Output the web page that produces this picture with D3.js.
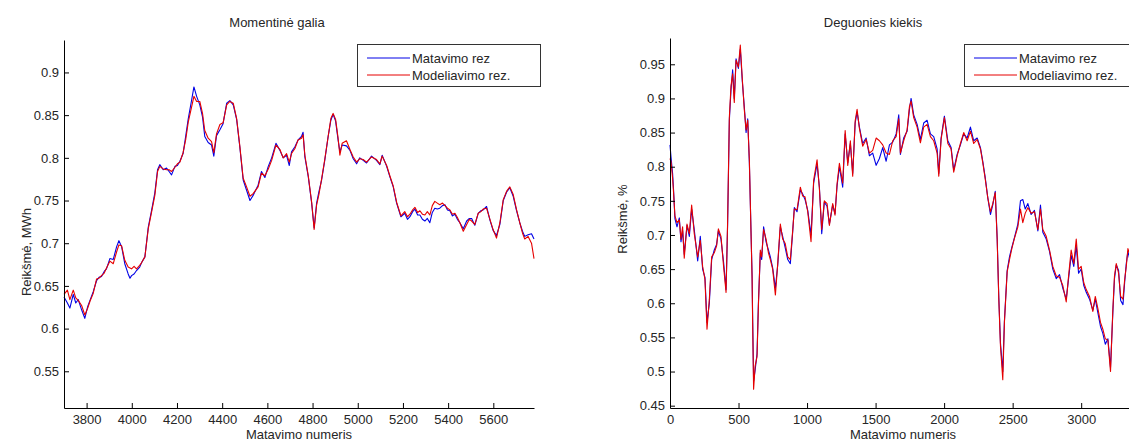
<!DOCTYPE html>
<html>
<head>
<meta charset="utf-8">
<script src="https://cdn.jsdelivr.net/npm/d3@7"></script>
<style>
  body { margin: 0; background: #fff; }
  svg text { font-family: "Liberation Sans", Arial, sans-serif; }
</style>
</head>
<body>
<svg id="chart" width="1129" height="444"></svg>
<script>
// ---- Momentinė galia (MWh) ----
const powerSampleNo = [3700,3715,3726,3741,3752,3763,3778,3792,3805,3815,3829,3844,3855,3866,3878,3888,3903,3918,3933,3943,3955,3969,3984,3992,3999,4010,4021,4035,4043,4058,4073,4088,4102,4114,4124,4139,4154,4165,4176,4191,4202,4213,4227,4239,4250,4265,4275,4287,4301,4313,4323,4338,4353,4363,4375,4390,4404,4420,4434,4449,4464,4478,4493,4508,4523,4537,4559,4574,4589,4604,4619,4638,4655,4670,4685,4697,4707,4722,4736,4751,4758,4766,4781,4796,4807,4818,4828,4840,4854,4869,4881,4891,4902,4913,4921,4931,4950,4965,4980,4995,5009,5024,5039,5061,5083,5098,5108,5128,5142,5157,5172,5191,5208,5220,5231,5243,5253,5265,5275,5286,5297,5308,5319,5330,5341,5352,5363,5375,5386,5397,5408,5419,5430,5441,5452,5467,5482,5494,5504,5518,5533,5545,5555,5570,5585,5599,5614,5629,5644,5659,5673,5688,5703,5717,5729,5739,5754,5769,5780];
const powerMeasured = [0.637,0.630,0.624,0.640,0.630,0.634,0.622,0.612,0.626,0.633,0.643,0.656,0.660,0.661,0.667,0.670,0.682,0.681,0.696,0.703,0.696,0.676,0.664,0.659,0.662,0.664,0.668,0.672,0.677,0.684,0.719,0.739,0.759,0.786,0.792,0.786,0.788,0.784,0.780,0.790,0.791,0.796,0.805,0.826,0.846,0.868,0.883,0.872,0.862,0.848,0.825,0.818,0.815,0.802,0.826,0.833,0.840,0.864,0.867,0.862,0.845,0.813,0.774,0.762,0.750,0.756,0.768,0.784,0.777,0.790,0.800,0.817,0.809,0.800,0.803,0.791,0.807,0.813,0.821,0.825,0.830,0.801,0.778,0.747,0.718,0.747,0.760,0.774,0.797,0.825,0.844,0.851,0.843,0.821,0.807,0.815,0.814,0.809,0.799,0.793,0.800,0.797,0.794,0.802,0.797,0.792,0.803,0.790,0.778,0.766,0.747,0.731,0.735,0.728,0.731,0.737,0.740,0.733,0.733,0.728,0.726,0.729,0.724,0.736,0.741,0.740,0.741,0.744,0.745,0.739,0.738,0.732,0.734,0.728,0.724,0.717,0.726,0.729,0.729,0.721,0.735,0.738,0.739,0.743,0.727,0.715,0.709,0.722,0.750,0.760,0.765,0.755,0.738,0.724,0.714,0.708,0.710,0.711,0.705];
const powerModel = [0.640,0.645,0.634,0.645,0.636,0.633,0.627,0.616,0.624,0.632,0.641,0.658,0.659,0.662,0.665,0.671,0.679,0.676,0.690,0.698,0.697,0.680,0.672,0.671,0.670,0.673,0.670,0.674,0.677,0.684,0.717,0.737,0.756,0.784,0.790,0.787,0.786,0.786,0.784,0.789,0.793,0.795,0.806,0.822,0.842,0.860,0.872,0.866,0.866,0.852,0.832,0.823,0.819,0.806,0.828,0.839,0.841,0.862,0.866,0.864,0.846,0.814,0.776,0.766,0.755,0.758,0.766,0.782,0.779,0.787,0.797,0.815,0.810,0.800,0.805,0.795,0.805,0.811,0.821,0.823,0.827,0.803,0.779,0.748,0.716,0.745,0.757,0.775,0.798,0.825,0.846,0.852,0.845,0.823,0.803,0.817,0.820,0.810,0.801,0.795,0.799,0.798,0.795,0.801,0.798,0.793,0.802,0.791,0.779,0.767,0.748,0.732,0.737,0.731,0.734,0.739,0.742,0.736,0.738,0.734,0.733,0.737,0.733,0.744,0.749,0.747,0.745,0.747,0.744,0.741,0.739,0.734,0.735,0.730,0.724,0.714,0.722,0.728,0.726,0.722,0.735,0.737,0.740,0.741,0.728,0.716,0.706,0.724,0.751,0.761,0.766,0.757,0.739,0.724,0.712,0.705,0.708,0.700,0.682];
const powerTicksX = [3800,4000,4200,4400,4600,4800,5000,5200,5400,5600];
const powerTicksY = [0.55,0.6,0.65,0.7,0.75,0.8,0.85,0.9];

// ---- Deguonies kiekis (%) ----
const oxygenSampleNo = [0,7,19,26,36,51,68,80,92,104,124,141,158,177,202,221,238,255,270,287,304,323,340,353,372,391,409,420,433,445,457,469,482,499,513,528,542,555,567,579,591,599,603,610,621,635,645,659,669,683,701,718,732,749,769,786,805,822,840,859,878,895,907,927,951,968,985,1005,1029,1048,1073,1090,1107,1126,1146,1163,1187,1204,1219,1236,1260,1278,1297,1316,1333,1351,1365,1382,1406,1431,1455,1479,1504,1528,1552,1577,1601,1625,1650,1669,1681,1705,1730,1747,1759,1778,1803,1827,1851,1876,1900,1924,1949,1961,1978,2002,2027,2051,2070,2095,2119,2143,2168,2192,2216,2241,2265,2282,2300,2319,2338,2355,2373,2387,2399,2411,2428,2440,2460,2477,2494,2513,2538,2557,2574,2592,2611,2635,2659,2684,2703,2720,2745,2769,2793,2818,2842,2866,2891,2908,2927,2946,2964,2981,3000,3019,3037,3061,3085,3103,3122,3141,3158,3176,3195,3214,3231,3243,3256,3273,3288,3305,3317,3329,3341,3360,3380,3400];
const oxygenMeasured = [0.832,0.815,0.790,0.766,0.724,0.712,0.725,0.690,0.706,0.672,0.714,0.698,0.738,0.708,0.662,0.698,0.650,0.638,0.572,0.600,0.664,0.678,0.686,0.706,0.694,0.660,0.620,0.712,0.868,0.912,0.942,0.900,0.958,0.944,0.972,0.924,0.888,0.850,0.870,0.806,0.706,0.640,0.578,0.486,0.502,0.526,0.600,0.674,0.664,0.712,0.690,0.678,0.668,0.652,0.622,0.656,0.712,0.698,0.682,0.664,0.658,0.704,0.740,0.734,0.766,0.760,0.752,0.736,0.700,0.776,0.804,0.770,0.702,0.748,0.742,0.716,0.744,0.731,0.772,0.800,0.770,0.848,0.806,0.834,0.790,0.864,0.880,0.858,0.834,0.842,0.816,0.820,0.802,0.812,0.828,0.808,0.832,0.836,0.848,0.876,0.818,0.842,0.852,0.884,0.900,0.876,0.862,0.840,0.864,0.868,0.848,0.844,0.826,0.790,0.842,0.874,0.838,0.828,0.795,0.818,0.832,0.848,0.842,0.858,0.838,0.842,0.828,0.808,0.784,0.754,0.730,0.744,0.764,0.696,0.608,0.542,0.500,0.574,0.648,0.668,0.682,0.696,0.716,0.750,0.752,0.738,0.746,0.730,0.736,0.706,0.744,0.704,0.694,0.676,0.650,0.636,0.642,0.622,0.606,0.636,0.670,0.654,0.684,0.644,0.650,0.626,0.616,0.606,0.590,0.606,0.586,0.566,0.556,0.540,0.548,0.506,0.586,0.636,0.656,0.648,0.604,0.598,0.630,0.658,0.676,0.660,0.690,0.672];
const oxygenModel = [0.812,0.808,0.783,0.762,0.728,0.718,0.722,0.694,0.712,0.666,0.716,0.702,0.744,0.702,0.668,0.692,0.654,0.635,0.562,0.606,0.668,0.674,0.684,0.709,0.698,0.654,0.616,0.716,0.872,0.918,0.936,0.894,0.956,0.946,0.978,0.927,0.884,0.854,0.868,0.810,0.704,0.636,0.572,0.474,0.508,0.522,0.596,0.678,0.668,0.708,0.694,0.674,0.664,0.650,0.612,0.658,0.716,0.694,0.688,0.668,0.664,0.706,0.738,0.737,0.770,0.757,0.756,0.734,0.690,0.780,0.810,0.768,0.708,0.750,0.746,0.714,0.746,0.729,0.775,0.805,0.776,0.853,0.802,0.838,0.786,0.867,0.884,0.856,0.830,0.840,0.820,0.824,0.842,0.838,0.832,0.820,0.818,0.838,0.844,0.870,0.820,0.838,0.854,0.888,0.896,0.872,0.858,0.835,0.858,0.862,0.844,0.838,0.820,0.786,0.840,0.872,0.834,0.826,0.792,0.816,0.834,0.850,0.838,0.852,0.834,0.840,0.826,0.806,0.782,0.754,0.734,0.746,0.762,0.694,0.606,0.538,0.488,0.572,0.646,0.664,0.680,0.695,0.712,0.738,0.718,0.732,0.740,0.732,0.734,0.708,0.738,0.708,0.698,0.678,0.654,0.640,0.638,0.626,0.602,0.640,0.678,0.658,0.694,0.650,0.654,0.630,0.620,0.610,0.588,0.610,0.592,0.572,0.562,0.548,0.546,0.500,0.590,0.640,0.658,0.644,0.610,0.606,0.634,0.654,0.680,0.668,0.684,0.676];
const oxygenTicksX = [0,500,1000,1500,2000,2500,3000];
const oxygenTicksY = [0.45,0.5,0.55,0.6,0.65,0.7,0.75,0.8,0.85,0.9,0.95];

const seriesNames = ["Matavimo rez", "Modeliavimo rez."];
const seriesColors = ["#0000e6", "#e60000"];

const svg = d3.select("#chart");
const fmtTick = v => String(+v.toFixed(2));

function drawPanel(cfg) {
  const x = d3.scaleLinear().domain(cfg.xDomain).range([cfg.left, cfg.right]);
  const y = d3.scaleLinear().domain(cfg.yDomain).range([cfg.bottom, cfg.top]);
  const g = svg.append("g");

  // series: measured first, model drawn over it
  const line = d3.line().x(d => x(d[0])).y(d => y(d[1]));
  [cfg.measured, cfg.model].forEach((vals, i) => {
    const pts = cfg.sampleNo.map((s, k) => [s, vals[k]]);
    g.append("path")
      .datum(pts)
      .attr("fill", "none")
      .attr("stroke", seriesColors[i])
      .attr("stroke-width", 1.1)
      .attr("stroke-linejoin", "round")
      .attr("d", line);
  });

  // axes with inward ticks, no frame on top / right
  const ax = g.append("g")
    .attr("transform", `translate(0,${cfg.bottom})`)
    .call(d3.axisBottom(x).tickValues(cfg.ticksX).tickFormat(fmtTick)
      .tickSizeInner(-5).tickSizeOuter(0).tickPadding(7));
  const ay = g.append("g")
    .attr("transform", `translate(${cfg.left},0)`)
    .call(d3.axisLeft(y).tickValues(cfg.ticksY).tickFormat(fmtTick)
      .tickSizeInner(-5).tickSizeOuter(0).tickPadding(5));
  [ax, ay].forEach(a => {
    a.attr("color", "#000");
    a.selectAll("text").attr("fill", "#262626").attr("font-size", 13)
      .attr("font-family", '"Liberation Sans", Arial, sans-serif');
  });

  // title and axis labels
  g.append("text").attr("x", cfg.titleX).attr("y", 27)
    .attr("text-anchor", "middle").attr("font-size", 13).attr("fill", "#262626")
    .text(cfg.title);
  g.append("text").attr("x", (cfg.left + cfg.right) / 2).attr("y", 439)
    .attr("text-anchor", "middle").attr("font-size", 13).attr("fill", "#262626")
    .text("Matavimo numeris");
  g.append("text")
    .attr("transform", `translate(${cfg.yLabelX},${cfg.yLabelY}) rotate(-90)`)
    .attr("text-anchor", "middle").attr("font-size", 13).attr("fill", "#262626")
    .text(cfg.yLabel);

  // legend
  const lg = g.append("g").attr("transform", `translate(${cfg.legendX},44)`);
  lg.append("rect").attr("x", 0.5).attr("y", 0.5).attr("width", 183).attr("height", 42)
    .attr("fill", "#fff").attr("stroke", "#333").attr("stroke-width", 1);
  seriesNames.forEach((name, i) => {
    const yy = 14 + i * 17;
    lg.append("line").attr("x1", 10).attr("x2", 53).attr("y1", yy).attr("y2", yy)
      .attr("stroke", seriesColors[i]).attr("stroke-width", 1);
    lg.append("text").attr("x", 55).attr("y", yy + 4.5)
      .attr("font-size", 13).attr("fill", "#262626").text(name);
  });
}

drawPanel({
  title: "Momentinė galia", titleX: 277,
  yLabel: "Reikšmė, MWh", yLabelX: 31, yLabelY: 252,
  left: 64, right: 534, top: 40, bottom: 408,
  xDomain: [3700, 5780], yDomain: [0.507, 0.938],
  ticksX: powerTicksX, ticksY: powerTicksY,
  sampleNo: powerSampleNo, measured: powerMeasured, model: powerModel,
  legendX: 357
});

drawPanel({
  title: "Deguonies kiekis", titleX: 873,
  yLabel: "Reikšmė, %", yLabelX: 627, yLabelY: 219,
  left: 670, right: 1136, top: 38, bottom: 408,
  xDomain: [0, 3400], yDomain: [0.4466, 0.9885],
  ticksX: oxygenTicksX, ticksY: oxygenTicksY,
  sampleNo: oxygenSampleNo, measured: oxygenMeasured, model: oxygenModel,
  legendX: 964
});
</script>
</body>
</html>
